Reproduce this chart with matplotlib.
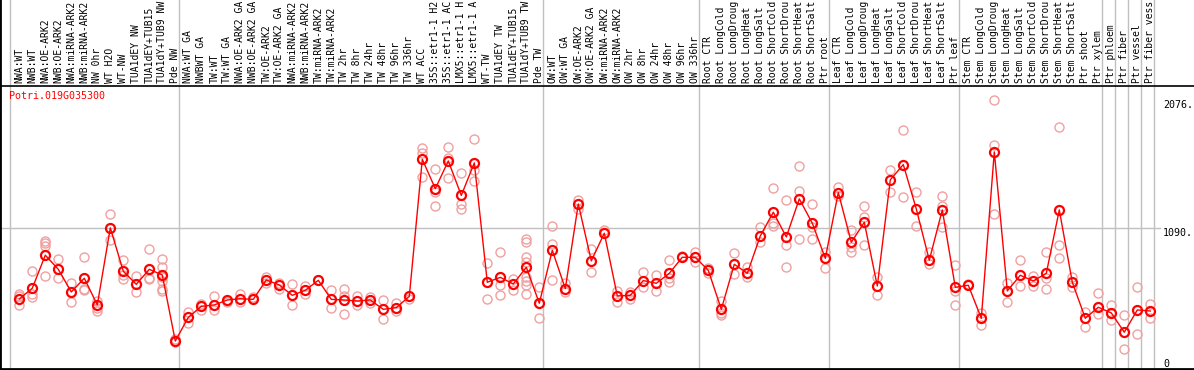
import matplotlib
matplotlib.use("Agg")
import matplotlib.pyplot as plt
import matplotlib.transforms as mtransforms

gene = "Potri.019G035300"

# labels as they show in the reference (long ones are cut at the top there)
labels = [
    "NWA:WT", "NWB:WT", "NWA:OE-ARK2", "NWB:OE-ARK2", "NWA:miRNA-ARK2", "NWB:miRNA-ARK2",
    "NW 0hr", "WT H2O", "WT-NW", "TUA1dEY NW", "TUA1dEY+TUB15", "TUA1dY+TUB9 NW", "Pde NW",
    "NWA:WT GA", "NWBWT GA", "TW:WT", "TW:WT GA", "NWA:OE-ARK2 GA", "NWB:OE-ARK2 GA",
    "TW:OE-ARK2", "TW:OE-ARK2 GA", "NWA:miRNA-ARK2", "NWB:miRNA-ARK2", "TW:miRNA-ARK2",
    "TW:miRNA-ARK2", "TW 2hr", "TW 8hr", "TW 24hr", "TW 48hr", "TW 96hr", "TW 336hr",
    "WT ACC", "35S::etr1-1 H2", "35S::etr1-1 AC", "LMX5::etr1-1 H", "LMX5::etr1-1 A",
    "WT-TW", "TUA1dEY TW", "TUA1dEY+TUB15", "TUA1dY+TUB9 TW", "Pde TW",
    "OW:WT", "OW:WT GA", "OW:OE-ARK2", "OW:OE-ARK2 GA", "OW:miRNA-ARK2", "OW:miRNA-ARK2",
    "OW 2hr", "OW 8hr", "OW 24hr", "OW 48hr", "OW 96hr", "OW 336hr",
    "Root CTR", "Root LongCold", "Root LongDroug", "Root LongHeat", "Root LongSalt",
    "Root ShortCold", "Root ShortDrou", "Root ShortHeat", "Root ShortSalt", "Ptr root",
    "Leaf CTR", "Leaf LongCold", "Leaf LongDroug", "Leaf LongHeat", "Leaf LongSalt",
    "Leaf ShortCold", "Leaf ShortDrou", "Leaf ShortHeat", "Leaf ShortSalt", "Ptr leaf",
    "Stem CTR", "Stem LongCold", "Stem LongDroug", "Stem LongHeat", "Stem LongSalt",
    "Stem ShortCold", "Stem ShortDrou", "Stem ShortHeat", "Stem ShortSalt",
    "Ptr shoot", "Ptr xylem", "Ptr phloem", "Ptr fiber", "Ptr vessel", "Ptr fiber vess",
]

# index where each group starts (plus end)
group_starts = [0, 13, 41, 53, 63, 73, 84, 85, 86, 87, 88]

means = [541, 624, 879, 770, 595, 701, 495, 1090, 755, 654, 770, 726, 216,
         399, 484, 495, 533, 543, 538, 688, 649, 569, 608, 685, 538, 533, 525, 533,
         461, 474, 561, 1620, 1393, 1607, 1341, 1592, 670, 708, 657, 786, 508,
         917, 621, 1275, 835, 1049, 564, 569, 683, 662, 739, 863, 863,
         762, 461, 809, 739, 1028, 1211, 1020, 1314, 1126, 855,
         1363, 979, 1133, 641, 1461, 1579, 1236, 840, 1229, 631,
         647, 392, 1677, 603, 724, 680, 739, 1229, 670, 392, 477,
         433, 284, 456, 448]

reps = [
    [582, 566, 495], [757, 577, 554], [992, 970, 953, 716], [850, 701], [662, 515],
    [863, 618, 611], [528, 469, 451], [1195, 997], [840, 726, 696], [719, 597],
    [925, 701, 693], [850, 791, 713, 680, 616, 603], [230, 206],
    [443, 353], [505, 456], [566, 456], [520], [580, 518], [559], [713, 667],
    [667, 618], [654, 495], [644, 577], [690], [608, 469], [616, 566, 425],
    [566, 495], [559, 508], [533, 389], [512, 451], [543], [1710, 1667, 1481],
    [1543, 1368, 1262], [1712, 1628, 1474], [1512, 1275, 1239], [1775, 1538, 1455],
    [817, 538], [902, 651, 572], [696, 611], [1005, 984, 863, 829, 713, 683, 649, 577],
    [631, 392],
    [1105, 966, 685], [662, 597], [1306, 1239], [925, 747], [1070], [603, 515],
    [597, 538], [752, 636], [724, 605], [840, 701, 675], [870], [902, 829],
    [778, 744], [528, 435, 417], [899, 732], [791, 713], [1095, 984],
    [1396, 1126, 1105], [1304, 956, 791], [1566, 1373, 1002], [1273, 1095, 1002], [907, 778],
    [1404, 1337], [1074, 945, 902], [1257, 1172, 956], [713, 569], [1538, 1368],
    [1845, 1332], [1368, 1105], [902, 809], [1335, 1260, 1095], [801, 600, 495],
    [660], [435, 338], [2076, 1731, 1195], [662, 518], [840, 641], [721, 641],
    [902, 701, 616], [1868, 958, 858], [713, 634], [443, 322], [587, 425],
    [495, 379], [415, 152], [634, 268], [502, 394],
]

ytick_vals = [0, 1090, 2076]
ytick_text = ["0", "1090.", "2076."]

mono = "DejaVu Sans Mono"
grid_col = "#c0c0c0"
rep_col = "#f0a0a0"

W, H = 1194, 370
fig = plt.figure(figsize=(W / 100, H / 100), dpi=100)

# pixel layout: labels band 0..85, plot band 86..369
ax_top = fig.add_axes([0, 1 - 85 / H, 1, 85 / H])
ax = fig.add_axes([0, 1 / H, 1, 283 / H])

x0, step = 19.3, 13.0
xlim = (-x0 / step, (W - x0) / step)
ymax = max(max(r) for r in reps) * 1.053

for a in (ax_top, ax):
    a.set_xlim(*xlim)
    a.set_xticks([])
    a.set_yticks([])
    for s in ("top", "right", "bottom"):
        a.spines[s].set_visible(False)
    a.spines["left"].set_linewidth(2)
    for g in group_starts:
        a.axvline(g - (x0 - 10) / step, color=grid_col, lw=1, zorder=0)

ax.spines["top"].set_visible(True)
ax.spines["top"].set_linewidth(1.2)
ax.spines["bottom"].set_visible(True)
ax.spines["bottom"].set_linewidth(2)
ax.set_ylim(0, ymax)
ax_top.set_ylim(0, 1)

# category labels
trans = mtransforms.blended_transform_factory(ax_top.transData, ax_top.transAxes)
for i, lab in enumerate(labels):
    ax_top.text(i, 2 / 85, lab, rotation=90, ha="center", va="bottom",
                family=mono, fontsize=7.0, transform=trans)

# horizontal grid at middle tick
ax.plot([xlim[0], (1160 - x0) / step], [ytick_vals[1]] * 2, color=grid_col, lw=1, zorder=0)

# replicates
for i, r in enumerate(reps):
    ax.plot([i] * len(r), r, "o", mfc="none", mec=rep_col, ms=6.5, mew=1.0, zorder=2)

ax.plot(range(len(means)), means, "-", color="red", lw=1, zorder=3)
ax.plot(range(len(means)), means, "o", mfc="none", mec="red", ms=6.5, mew=1.6, zorder=4)

ytr = mtransforms.blended_transform_factory(ax.transAxes, ax.transData)
for v, t in zip(ytick_vals, ytick_text):
    ax.text(1163 / W, v, t, ha="left", va="bottom" if v == 0 else "top",
            family=mono, fontsize=7.2, transform=ytr)

ax.text(9 / W, 1 - 5 / 283, gene, color="red", family=mono, fontsize=7.2,
        ha="left", va="top", transform=ax.transAxes)

fig.savefig("out.png", dpi=100)
